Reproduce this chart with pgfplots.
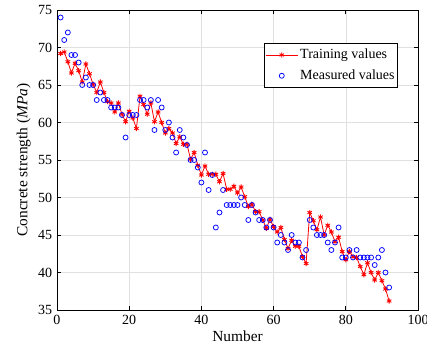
\documentclass[border=0pt]{standalone}
\usepackage{pgfplots}
\pgfplotsset{compat=1.18}
\usepackage{pgfplotstable}
\usepackage{fontspec}
\setmainfont{Liberation Serif}
\pgfplotsset{longlegend/.style={legend image code/.code={\draw[mark repeat=2,mark phase=2,##1] plot coordinates {(0pt,0pt) (16pt,0pt) (32pt,0pt)};}}}
\pgfplotstableread{
n meas train
1 74 69.2
2 71 69.4
3 72 68.1
4 69 66.6
5 69 67.9
6 68 66.9
7 65 65.4
8 66 67.8
9 65 66.5
10 65 65.1
11 63 64.0
12 64 65.4
13 63 64.0
14 63 62.8
15 62 62.6
16 62 61.4
17 62 62.6
18 61 61.1
19 58 60.1
20 61 61.5
21 61 60.6
22 61 59.2
23 63 63.5
24 63 62.4
25 62 61.1
26 63 62.6
27 59 60.1
28 63 61.4
29 62 60.0
30 59 58.6
31 60 59.2
32 58 58.6
33 56 57.2
34 59 58.1
35 58 57.1
36 57 57.1
37 55 55.1
38 55 56.0
39 54 54.3
40 52 53.0
41 56 54.2
42 51 53.1
43 53 53.1
44 46 53.1
45 48 52.1
46 51 53.2
47 49 51.1
48 49 51.1
49 49 51.5
50 49 50.6
51 50 51.4
52 49 50.1
53 47 48.8
54 49 49.1
55 48 48.1
56 47 48.1
57 47 47.0
58 46 45.9
59 47 47.1
60 46 46.1
61 44 45.4
62 45 46.0
63 44 44.4
64 43 43.2
65 45 44.3
66 44 43.5
67 44 43.5
68 42 42.1
69 43 41.2
70 47 48.0
71 46 46.9
72 45 45.7
73 45 47.4
74 45 45.0
75 44 46.3
76 43 45.4
77 44 44.1
78 46 44.7
79 42 42.8
80 42 41.7
81 43 42.8
82 42 42.1
83 43 42.0
84 42 40.8
85 42 39.7
86 42 41.3
87 42 40.0
88 41 39.0
89 42 40.0
90 43 38.9
91 40 37.8
92 38 36.2
}\datatable
\begin{document}
\fontsize{14}{16}\selectfont
\begin{tikzpicture}
\begin{axis}[
  name=ax,
  scale only axis, width=361pt, height=300pt,
  xmin=0, xmax=100, ymin=35, ymax=75,
  xtick={0,20,40,60,80,100}, ytick={35,40,45,50,55,60,65,70,75},
  grid=major, grid style={black!12, line width=0.6pt},
  axis line style={line width=0.9pt},
  major tick length=4pt,
  tick style={line width=0.7pt, black},
  /pgf/number format/assume math mode=true,
  ticklabel style={font=\fontsize{14}{16}\selectfont},
  label style={font=\fontsize{15.4}{17}\selectfont},
  xlabel={Number}, ylabel={Concrete strength (\textit{MPa})},
  xlabel style={yshift=3pt},
  ylabel style={yshift=-2pt},
  legend style={at={(0.9446,0.891)}, anchor=north east, draw=black, line width=0.7pt,
    font=\fontsize{14}{16}\selectfont, inner xsep=1pt, inner ysep=4pt, row sep=5pt,
    nodes={inner xsep=2pt}},
  legend cell align=left,
]
\addplot[red, line width=0.8pt, mark=asterisk, mark size=2.6pt, mark options={line width=0.9pt}, longlegend]
  table[x=n, y=train] {\datatable};
\addlegendentry{Training values}
\addplot[blue, only marks, mark=o, mark size=2.5pt, mark options={line width=0.75pt}, longlegend]
  table[x=n, y=meas] {\datatable};
\addlegendentry{Measured values}
\end{axis}
\pgfresetboundingbox
\path ([xshift=-57pt,yshift=-43pt]ax.south west) rectangle ([xshift=9pt,yshift=10pt]ax.north east);
\end{tikzpicture}
\end{document}
